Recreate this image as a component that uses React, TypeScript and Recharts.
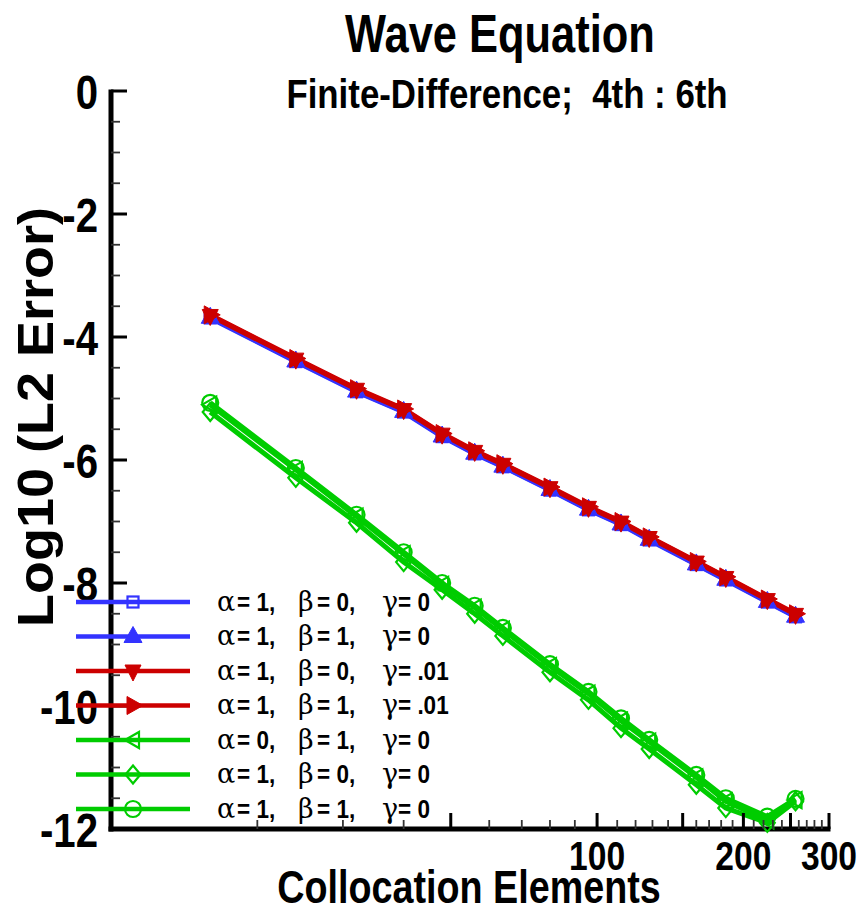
import React from 'react';
import { LineChart, Line, XAxis, YAxis, Legend, Customized } from 'recharts';

// collocation elements (x, log axis)
const elements = [16, 24, 32, 40, 48, 56, 64, 80, 96, 112, 128, 160, 184, 224, 256];

// log10 of L2 error for each case
const a1b0g0Blue = [-3.69, -4.4, -4.89, -5.22, -5.62, -5.9, -6.11, -6.49, -6.81, -7.05, -7.3, -7.7, -7.95, -8.31, -8.55];
const a1b1g0Blue = [-3.68, -4.39, -4.88, -5.21, -5.61, -5.89, -6.1, -6.48, -6.8, -7.04, -7.29, -7.69, -7.94, -8.3, -8.54];
const a1b0g01Red = [-3.65, -4.36, -4.85, -5.18, -5.58, -5.86, -6.07, -6.45, -6.77, -7.01, -7.26, -7.66, -7.91, -8.27, -8.51];
const a1b1g01Red = [-3.64, -4.35, -4.84, -5.17, -5.57, -5.85, -6.06, -6.44, -6.76, -7.0, -7.25, -7.65, -7.9, -8.26, -8.5];
const a0b1g0Green = [-5.1, -6.16, -6.92, -7.53, -8.03, -8.4, -8.76, -9.35, -9.8, -10.24, -10.58, -11.16, -11.55, -11.86, -11.53];
const a1b0g0Green = [-5.22, -6.29, -7.02, -7.66, -8.11, -8.5, -8.86, -9.45, -9.9, -10.36, -10.7, -11.28, -11.66, -11.9, -11.55];
const a1b1g0Green = [-5.07, -6.13, -6.89, -7.5, -8.0, -8.37, -8.73, -9.32, -9.77, -10.2, -10.55, -11.12, -11.5, -11.8, -11.51];

const xTicks = [20, 30, 40, 50, 60, 70, 80, 90, 100, 110, 120, 130, 140, 150, 160, 170, 180, 190, 200,
  210, 220, 230, 240, 250, 260, 270, 280, 290, 300];
const xLabelled = [100, 200, 300];
const yTicks = [-12, -11.5, -11, -10.5, -10, -9.5, -9, -8.5, -8, -7.5, -7, -6.5, -6, -5.5, -5, -4.5, -4,
  -3.5, -3, -2.5, -2, -1.5, -1, -0.5, 0];

const BLUE = '#3333ff';
const RED = '#cc0000';
const GREEN = '#00cc00';

const SERIES = [
  { key: 's1', values: a1b0g0Blue, a: '1', b: '0', g: '0', color: BLUE, shape: 'square' },
  { key: 's2', values: a1b1g0Blue, a: '1', b: '1', g: '0', color: BLUE, shape: 'up' },
  { key: 's3', values: a1b0g01Red, a: '1', b: '0', g: '.01', color: RED, shape: 'down' },
  { key: 's4', values: a1b1g01Red, a: '1', b: '1', g: '.01', color: RED, shape: 'right' },
  { key: 's5', values: a0b1g0Green, a: '0', b: '1', g: '0', color: GREEN, shape: 'left' },
  { key: 's6', values: a1b0g0Green, a: '1', b: '0', g: '0', color: GREEN, shape: 'diamond' },
  { key: 's7', values: a1b1g0Green, a: '1', b: '1', g: '0', color: GREEN, shape: 'circle' },
];

const data = elements.map((n, i) => {
  const row: any = { n };
  SERIES.forEach((s) => { row[s.key] = s.values[i]; });
  return row;
});

// chart frame
const W = 859;
const H = 914;
const MARGIN = { top: 91, right: 30, bottom: 55, left: 81 };
const AXIS_SIZE = 30;
const PLOT_LEFT = MARGIN.left + AXIS_SIZE;
const PLOT_BOTTOM = H - MARGIN.bottom - AXIS_SIZE;
const PLOT_RIGHT = W - MARGIN.right;

const HELV = "'Liberation Sans', Arial, Helvetica, sans-serif";
const GREEK = "'DejaVu Serif', 'Liberation Serif', serif";

// condensed bold text (Helvetica-Narrow look)
const NText = ({ x, y, size, anchor = 'start', sx = 0.82, weight = 'bold', family = HELV, rotate = 0, children }: any) => (
  <text
    transform={`translate(${x} ${y}) rotate(${rotate}) scale(${sx} 1)`}
    fontSize={size}
    fontWeight={weight}
    fontFamily={family}
    textAnchor={anchor}
    fill="#000"
    style={{ whiteSpace: 'pre' }}
  >
    {children}
  </text>
);

const Marker = ({ shape, cx, cy, color }: any) => {
  const sw = 2.2;
  switch (shape) {
    case 'square':
      return <rect x={cx - 5.5} y={cy - 5.5} width={11} height={11} fill="none" stroke={color} strokeWidth={sw} />;
    case 'up':
      return <polygon points={`${cx},${cy - 10} ${cx + 9},${cy + 6} ${cx - 9},${cy + 6}`} fill={color} stroke={color} strokeWidth={1} />;
    case 'down':
      return <polygon points={`${cx},${cy + 10} ${cx + 8},${cy - 6} ${cx - 8},${cy - 6}`} fill={color} stroke={color} strokeWidth={1} />;
    case 'right':
      return <polygon points={`${cx + 10},${cy} ${cx - 6},${cy - 9} ${cx - 6},${cy + 9}`} fill={color} stroke={color} strokeWidth={1} />;
    case 'left':
      return <polygon points={`${cx - 8},${cy} ${cx + 6},${cy - 8} ${cx + 6},${cy + 8}`} fill="none" stroke={color} strokeWidth={sw} />;
    case 'diamond':
      return <polygon points={`${cx},${cy - 9} ${cx + 7.5},${cy} ${cx},${cy + 9} ${cx - 7.5},${cy}`} fill="none" stroke={color} strokeWidth={sw} />;
    default:
      return <circle cx={cx} cy={cy} r={8} fill="none" stroke={color} strokeWidth={sw} />;
  }
};

const XTick = (props: any) => {
  const { x, y, payload } = props;
  const v = payload.value;
  const major = v % 50 === 0;
  return (
    <g>
      <line x1={x} y1={y} x2={x} y2={y - (major ? 16 : 9)} stroke={major ? '#000' : '#333'} strokeWidth={major ? 3 : 1.8} />
      {xLabelled.includes(v) && (
        <NText x={x} y={y + 41} size={41} anchor="middle">{String(v)}</NText>
      )}
    </g>
  );
};

const YTick = (props: any) => {
  const { x, y, payload } = props;
  const v = payload.value;
  const major = v % 2 === 0;
  return (
    <g>
      <line x1={x} y1={y} x2={x + (major ? 16 : 9)} y2={y} stroke={major ? '#000' : '#333'} strokeWidth={major ? 3 : 1.8} />
      {major && (
        <NText x={x - 13} y={y + 17.5} size={49} anchor="end">{String(v)}</NText>
      )}
    </g>
  );
};

const Frame = () => (
  <g>
    <line x1={PLOT_LEFT} y1={MARGIN.top - 1.5} x2={PLOT_LEFT} y2={PLOT_BOTTOM + 2.5} stroke="#000" strokeWidth={5} />
    <line x1={PLOT_LEFT - 2.5} y1={PLOT_BOTTOM} x2={PLOT_RIGHT + 1.5} y2={PLOT_BOTTOM} stroke="#000" strokeWidth={5} />
    <NText x={500} y={52} size={53} anchor="middle">Wave Equation</NText>
    <NText x={507} y={108} size={41} sx={0.85} anchor="middle">{'Finite-Difference;  4th : 6th'}</NText>
    <NText x={469} y={903} size={46} anchor="middle">Collocation Elements</NText>
    <NText x={53} y={417} size={50} anchor="middle" rotate={-90} sx={1.08}>Log10 (L2 Error)</NText>
  </g>
);

const renderLegend = (props: any) => {
  const payload = props.payload || [];
  return (
    <svg width={420} height={250}>
      {SERIES.map((s, i) => {
        const entry = payload.find((p: any) => p.dataKey === s.key);
        const color = entry ? entry.color : s.color;
        const cy = 22 + i * 34.5;
        const ty = cy + 8.5;
        return (
          <g key={s.key}>
            <line x1={16} y1={cy} x2={130} y2={cy} stroke={color} strokeWidth={4.5} />
            <Marker shape={s.shape} cx={73} cy={cy} color={color} />
            <NText x={157} y={ty} size={27} weight="normal" family={GREEK} sx={1}>α</NText>
            <NText x={177} y={ty} size={25} sx={0.9}>{`= ${s.a},`}</NText>
            <NText x={238} y={ty} size={27} weight="normal" family={GREEK} sx={1}>β</NText>
            <NText x={257} y={ty} size={25} sx={0.9}>{`= ${s.b},`}</NText>
            <NText x={322} y={ty} size={27} weight="normal" family={GREEK} sx={1}>γ</NText>
            <NText x={338} y={ty} size={25} sx={0.9}>{`= ${s.g}`}</NText>
          </g>
        );
      })}
    </svg>
  );
};

export default function App() {
  return (
    <div style={{ width: W, height: H, background: '#fff', position: 'relative' }}>
      <style>{'body{margin:0;}'}</style>
      <LineChart width={W} height={H} data={data} margin={MARGIN}>
        <XAxis
          dataKey="n"
          type="number"
          scale="log"
          domain={[10, 300]}
          ticks={xTicks}
          interval={0}
          height={AXIS_SIZE}
          tickSize={0}
          tickMargin={0}
          tickLine={false}
          tick={XTick}
          axisLine={false}
        />
        <YAxis
          type="number"
          domain={[-12, 0]}
          ticks={yTicks}
          interval={0}
          width={AXIS_SIZE}
          tickSize={0}
          tickMargin={0}
          tickLine={false}
          tick={YTick}
          axisLine={false}
        />
        {SERIES.map((s) => (
          <Line
            key={s.key}
            type="linear"
            dataKey={s.key}
            name={`α = ${s.a},  β = ${s.b},  γ = ${s.g}`}
            stroke={s.color}
            strokeWidth={5}
            isAnimationActive={false}
            activeDot={false}
            dot={(p: any) => <Marker key={`${s.key}-${p.index}`} shape={s.shape} cx={p.cx} cy={p.cy} color={s.color} />}
          />
        ))}
        <Legend
          layout="vertical"
          verticalAlign="middle"
          align="center"
          content={renderLegend}
          wrapperStyle={{ left: 60, top: 580, width: 420, height: 250 }}
        />
        <Customized component={Frame} />
      </LineChart>
    </div>
  );
}
